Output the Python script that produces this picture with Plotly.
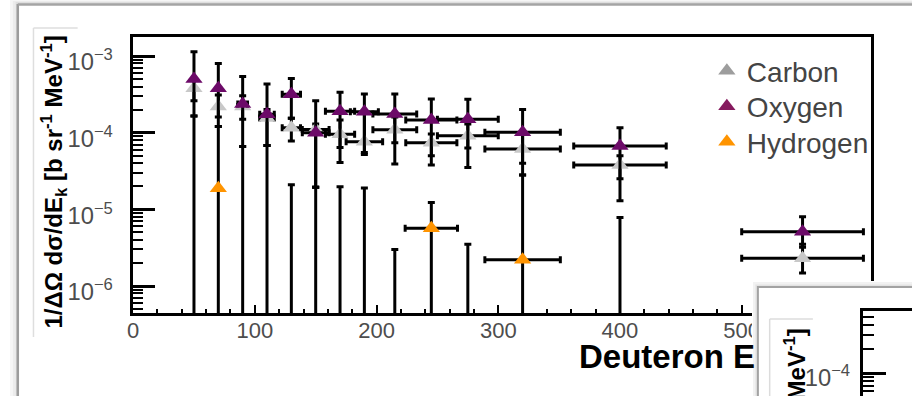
import plotly.graph_objects as go

W, H = 923, 396

# ---------------- data ----------------
energy = [50, 70, 90, 110, 130, 150, 170, 190, 215, 245, 275, 320, 400, 550]

oxygen    = [5.0e-4, 3.8e-4, 2.37e-4, 1.74e-4, 3.16e-4, 1.0e-4, 1.9e-4, 1.88e-4, 1.75e-4, 1.46e-4, 1.5e-4, 1.01e-4, 6.7e-5, 5.1e-6]
oxygen_hi = [1.14e-3, 8.0e-4, 5.4e-4, 4.3e-4, 5.1e-4, 2.6e-4, 3.36e-4, 3.2e-4, 3.2e-4, 2.75e-4, 2.72e-4, 2.0e-4, 1.16e-4, 8.0e-6]
oxygen_lo = [2.6e-4, 1.6e-4, 1.5e-4, 6.8e-5, 1.54e-4, 1.94e-5, 6.4e-5, 5.5e-5, 3.9e-5, 5.0e-5, 6.3e-5, 4.0e-5, 2.5e-5, 3.2e-6]
oxygen_dx = [0, 0, 4, 6, 7.5, 11, 12, 11.5, 18, 21, 25, 31, 38, 50]

carbon    = [3.8e-4, 2.2e-4, 2.2e-4, 1.55e-4, 1.16e-4, 1.1e-4, 9.5e-5, 7.6e-5, 1.09e-4, 7.4e-5, 9.1e-5, 6.1e-5, 3.8e-5, 2.3e-6]
carbon_hi = [5.0e-4, 3.1e-4, 3.03e-4, 2.0e-4, 1.54e-4, 1.3e-4, 1.46e-4, 1.8e-4, 1.6e-4, 9.6e-5, 1.3e-4, 1.0e-4, 5.0e-5, 3.5e-6]
carbon_lo = [1.65e-4, 1.2e-4, 6.6e-5, 6.8e-5, 7.8e-5, 1.94e-5, 4.07e-5, 5.2e-5, 7.4e-5, 3.8e-5, 3.5e-5, 2.8e-5, 1.29e-5, 1.48e-6]
carbon_dx = [0, 0, 4, 6, 7.5, 11, 12, 15, 18, 21, 25, 31, 38, 50]

# None = central value below the lower edge of the axis (only the error bar shows)
hydrogen    = [None, 1.88e-5, None, None, None, None, None, None, None, 5.65e-6, None, 2.2e-6, None, None]
hydrogen_hi = [1.65e-4, 1.2e-4, 6.6e-5, 6.8e-5, 2.1e-5, 1.94e-5, 1.97e-5, 1.9e-5, 3.0e-6, 1.23e-5, 3.5e-6, 2.8e-5, 7.8e-6, None]
hydrogen_dx = [0, 0, 0, 0, 0, 0, 0, 0, 0, 21.5, 0, 31, 0, 0]

series_names = ["Carbon", "Oxygen", "Hydrogen"]
x_tick_step = 100
y_title = "1/ΔΩ dσ/dE<sub>k</sub> [b sr<sup>-1</sup> MeV<sup>-1</sup>]"
x_title_visible = "Deuteron E"

# ---------------- styles ----------------
C_GRAY = "#c8c8c8"
C_PURPLE = "#6c0a68"
C_ORANGE = "#ff9400"
LEG_COL = {"Carbon": "#9d9d9d", "Oxygen": "#861a5e", "Hydrogen": "#ff9400"}
LEG_Y = {"Carbon": 71, "Oxygen": 106.5, "Hydrogen": 142}
FONT = "Liberation Sans, Arial, Helvetica, sans-serif"
MS = 15


def pxx(x):
    return x / W


def pxy(y):
    return 1 - y / H


def err_y(vals, hi, lo):
    plus = [h - v for v, h in zip(vals, hi)]
    minus = [v - l for v, l in zip(vals, lo)]
    return dict(type="data", symmetric=False, array=plus, arrayminus=minus,
                color="black", thickness=3, width=3.5)


def err_x(dx):
    return dict(type="data", array=dx, color="black", thickness=3, width=3.5)


fig = go.Figure()

fig.add_trace(go.Scatter(
    x=energy, y=carbon, mode="markers", showlegend=False,
    marker=dict(symbol="triangle-up", size=MS, color=C_GRAY),
    error_y=err_y(carbon, carbon_hi, carbon_lo), error_x=err_x(carbon_dx)))

# hydrogen: points below the axis floor are kept with a tiny value so only the bar shows
hx, hy, hp, hm, hdx = [], [], [], [], []
FLOOR = 1e-9
for e, v, hi, dx in zip(energy, hydrogen, hydrogen_hi, hydrogen_dx):
    if hi is None:
        continue
    y = v if v is not None else FLOOR
    hx.append(e)
    hy.append(y)
    hp.append(hi - y)
    hm.append(2 * y)  # lower end reaches zero -> bar runs to the bottom of the log axis
    hdx.append(dx)

fig.add_trace(go.Scatter(
    x=hx, y=hy, mode="markers", showlegend=False,
    marker=dict(symbol="triangle-up", size=MS, color=C_ORANGE),
    error_y=dict(type="data", symmetric=False, array=hp, arrayminus=hm,
                 color="black", thickness=3, width=3.5),
    error_x=err_x(hdx)))

fig.add_trace(go.Scatter(
    x=energy, y=oxygen, mode="markers", showlegend=False,
    marker=dict(symbol="triangle-up", size=MS, color=C_PURPLE),
    error_y=err_y(oxygen, oxygen_hi, oxygen_lo), error_x=err_x(oxygen_dx)))

# one legend per entry so the spacing can follow the picture
for i, name in enumerate(series_names):
    lg = "legend" if i == 0 else "legend%d" % (i + 1)
    fig.add_trace(go.Scatter(
        x=[None], y=[None], mode="markers", name=name, legend=lg,
        marker=dict(symbol="triangle-up", size=MS, color=LEG_COL[name])))
    fig.update_layout({lg: dict(x=pxx(714), y=pxy(LEG_Y[name]), xanchor="left", yanchor="middle",
                                font=dict(family=FONT, size=28, color="#444444"),
                                bgcolor="rgba(0,0,0,0)", borderwidth=0)})

# empty traces that create the canvas and the axes of the overlapping second window
fig.add_trace(go.Scatter(x=[], y=[], xaxis="x2", yaxis="y2", showlegend=False, hoverinfo="skip"))
fig.add_trace(go.Scatter(x=[], y=[], xaxis="x3", yaxis="y3", showlegend=False, hoverinfo="skip"))

# ---------------- axes ----------------
main_x_dom = [pxx(129), pxx(881)]
main_y_dom = [pxy(313), pxy(37)]
px_per_mev = 1.24
x0 = -0.5 / px_per_mev
x1 = x0 + (881 - 129) / px_per_mev
decade = 76.67
y_top = -3 + (56 - 37) / decade
y_bot = -6 - (313 - 286) / decade

xtickfont = dict(family=FONT, size=22, color="#4d4d4d")
ytickfont = dict(family=FONT, size=19, color="#4d4d4d")

fig.update_layout(
    width=W, height=H,
    margin=dict(l=0, r=0, t=0, b=0),
    paper_bgcolor="white", plot_bgcolor="white",
    showlegend=True,
    xaxis=dict(domain=main_x_dom, range=[x0, x1], anchor="y",
               showline=True, linewidth=3, linecolor="black", mirror=True,
               showgrid=False, zeroline=False,
               ticks="inside", ticklen=8, tickwidth=2, tickcolor="black",
               dtick=x_tick_step, tick0=0,
               minor=dict(ticks="inside", ticklen=4, tickwidth=2, tickcolor="black", dtick=20),
               tickfont=xtickfont, ticklabelstandoff=-4),
    yaxis=dict(domain=main_y_dom, type="log", range=[y_bot, y_top], anchor="x",
               showline=True, linewidth=3, linecolor="black", mirror=True,
               showgrid=False, zeroline=False,
               ticks="inside", ticklen=22, tickwidth=3, tickcolor="black",
               dtick=1, exponentformat="power", showexponent="all",
               minor=dict(ticks="inside", ticklen=10, tickwidth=2, tickcolor="black", dtick="D1"),
               tickfont=ytickfont, ticklabelstandoff=13, ticklabelshift=6),
    # canvas of the overlapping second window
    xaxis2=dict(domain=[pxx(760), 1], range=[0, 1], anchor="y2",
                showline=False, showgrid=False, zeroline=False, showticklabels=False, ticks=""),
    yaxis2=dict(domain=[0, pxy(281)], range=[0, 1], anchor="x2",
                showline=False, showgrid=False, zeroline=False, showticklabels=False, ticks=""),
    # axes of the second window
    xaxis3=dict(domain=[pxx(873), 1], range=[0, 1], anchor="y3", side="top",
                showline=True, linewidth=3, linecolor="black",
                showgrid=False, zeroline=False, showticklabels=False, ticks=""),
    yaxis3=dict(domain=[0, pxy(311)], type="log", anchor="x3",
                range=[-4 - (396 - 373.3) / 81, -4 + (373.3 - 311) / 81],
                showline=True, linewidth=3, linecolor="black",
                showgrid=False, zeroline=False,
                ticks="inside", ticklen=23, tickwidth=3, tickcolor="black",
                dtick=1, exponentformat="power", showexponent="all",
                minor=dict(ticks="inside", ticklen=11, tickwidth=2, tickcolor="black", dtick="D1"),
                tickfont=ytickfont, ticklabelstandoff=6, ticklabelshift=4),
)


def cx(p):
    return (p - 760) / (W - 760)


def cy(p):
    return (H - p) / (H - 281)


shapes = []
# outer window frame with shadow (paper)
for i, col in enumerate(["#f6f6f6", "#ececec", "#dedede"]):
    shapes.append(dict(type="rect", xref="paper", yref="paper", layer="below",
                       x0=pxx(4 + 3 * i), x1=pxx(13), y0=0, y1=pxy(0 + i),
                       fillcolor=col, line=dict(width=0)))
    shapes.append(dict(type="rect", xref="paper", yref="paper", layer="below",
                       x0=pxx(4 + 3 * i), x1=1, y0=pxy(5), y1=pxy(0 + i),
                       fillcolor=col, line=dict(width=0)))
shapes.append(dict(type="line", xref="paper", yref="paper", layer="below",
                   x0=pxx(12), x1=pxx(12), y0=0, y1=pxy(4),
                   line=dict(color="#9c9c9c", width=2.5)))
shapes.append(dict(type="line", xref="paper", yref="paper", layer="below",
                   x0=pxx(12), x1=1, y0=pxy(4.5), y1=pxy(4.5),
                   line=dict(color="#a4a4a4", width=2.5)))
# y-title box (very light)
shapes.append(dict(type="line", xref="paper", yref="paper", layer="below",
                   x0=pxx(28), x1=pxx(28), y0=pxy(337), y1=pxy(28),
                   line=dict(color="#dedede", width=1.5)))
shapes.append(dict(type="line", xref="paper", yref="paper", layer="below",
                   x0=pxx(28), x1=pxx(73), y0=pxy(28), y1=pxy(28),
                   line=dict(color="#dedede", width=1.5)))

# overlapping window (drawn in canvas subplot so it covers the main plot)
for i, col in enumerate(["#f2f2f2", "#e3e3e3"]):
    shapes.append(dict(type="rect", xref="x2", yref="y2", layer="below",
                       x0=cx(761 + 2.5 * i), x1=1, y0=0, y1=cy(282 + 2.5 * i),
                       fillcolor=col, line=dict(width=0)))
shapes.append(dict(type="rect", xref="x2", yref="y2", layer="below",
                   x0=cx(766), x1=1.05, y0=-0.05, y1=cy(287),
                   fillcolor="white", line=dict(color="#a3a3a3", width=2)))
shapes.append(dict(type="line", xref="x2", yref="y2", layer="below",
                   x0=cx(778), x1=cx(778), y0=0, y1=cy(319),
                   line=dict(color="#dcdcdc", width=1.5)))
shapes.append(dict(type="line", xref="x2", yref="y2", layer="below",
                   x0=cx(778), x1=cx(822), y0=cy(319), y1=cy(319),
                   line=dict(color="#dcdcdc", width=1.5)))
fig.update_layout(shapes=shapes)

ann = []
ann.append(dict(xref="paper", yref="paper", x=pxx(48), y=pxy(182.5),
                xanchor="center", yanchor="middle", textangle=-90, showarrow=False,
                text=y_title, font=dict(family=FONT, size=24, color="black", weight="bold")))
ann.append(dict(xref="paper", yref="paper", x=pxx(582), y=pxy(356),
                xanchor="left", yanchor="middle", showarrow=False,
                text=x_title_visible, font=dict(family=FONT, size=33, color="black", weight="bold")))
ann.append(dict(xref="paper", yref="paper", x=pxx(805), y=pxy(327),
                xanchor="center", yanchor="top", textangle=-90, showarrow=False,
                text=y_title, font=dict(family=FONT, size=24, color="black", weight="bold")))
fig.update_layout(annotations=ann)

fig.write_html("out.html")
